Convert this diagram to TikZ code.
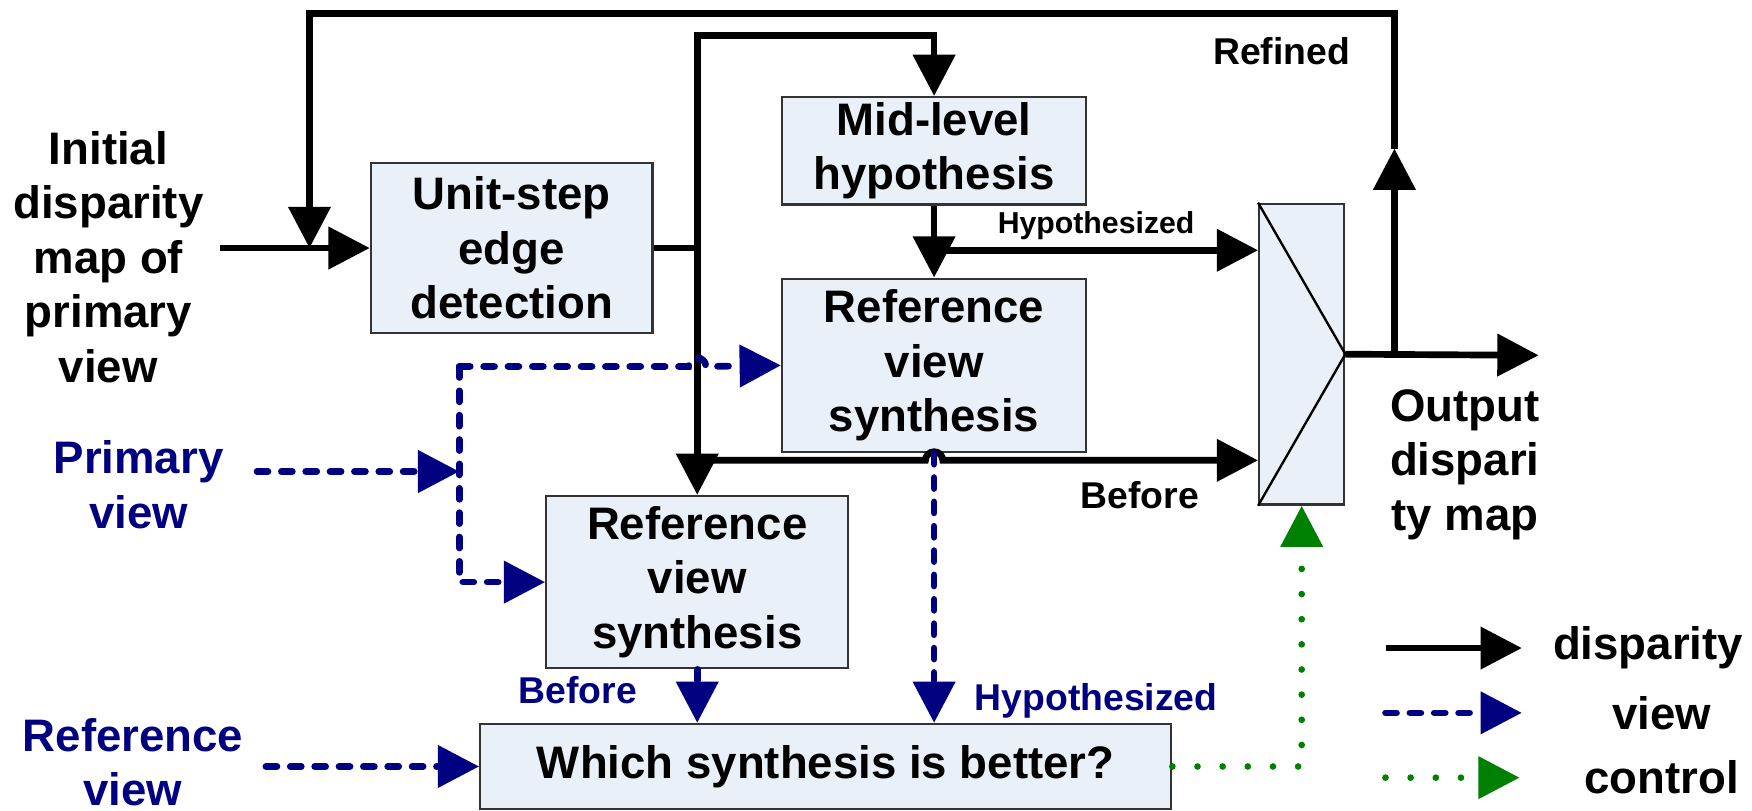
\documentclass[tikz,border=0pt]{standalone}
\usepackage{fontspec}
\setmainfont{Liberation Sans}
\usepackage{xcolor}
\usetikzlibrary{arrows.meta}

\definecolor{boxfill}{HTML}{EAF0F8}
\definecolor{viewblue}{HTML}{000080}
\definecolor{ctrlgreen}{HTML}{008000}

\begin{document}
\begin{tikzpicture}[x=0.01cm, y=-0.01cm, font=\fontsize{11.6}{13.9}\selectfont\bfseries]

	\useasboundingbox (0,0) rectangle (1568,725);

	\tikzstyle{every node}=[align=center, inner sep=0pt]
	\tikzstyle{blk}=[draw=black!80, line width=0.6pt, fill=boxfill]
	\tikzstyle{dline}=[line width=1.7pt, -{Triangle[length=10.5pt,width=10.5pt]}]
	\tikzstyle{vline}=[dline, viewblue, line cap=round, dash pattern=on 2.8pt off 3.4pt]
	\tikzstyle{cline}=[line width=1.7pt, ctrlgreen, line cap=round, dash pattern=on 0pt off 6.4pt, -{Triangle[length=10.5pt,width=10.5pt]}]
	\tikzstyle{small}=[font=\fontsize{7.7}{9}\selectfont\bfseries]
	\tikzstyle{mid}=[font=\fontsize{9.5}{11}\selectfont\bfseries]

	% blocks
	\node[blk, minimum width=2.52cm, minimum height=1.52cm] (u) at (458,222) {Unit-step\\edge\\detection};
	\node[blk, minimum width=2.72cm, minimum height=0.96cm] (m) at (836,135) {Mid-level\\hypothesis};
	\node[blk, minimum width=2.72cm, minimum height=1.55cm] (r1) at (836,327) {Reference\\view\\synthesis};
	\node[blk, minimum width=2.70cm, minimum height=1.54cm] (r2) at (624,521) {Reference\\view\\synthesis};
	\node[blk, minimum width=6.18cm, minimum height=0.76cm] (w) at (739,686) {Which synthesis is better?};
	\node[blk, minimum width=0.76cm, minimum height=2.69cm] (mx) at (1165,317) {};
	\draw[line width=0.6pt] (mx.north west) -- (mx.east) -- (mx.south west);

	% outside texts
	\node (in) at (97,230) {Initial\\disparity\\map of\\primary\\view};
	\node[viewblue] (pv) at (124,434) {Primary\\view};
	\node[viewblue] (rv) at (119,682) {Reference\\view};
	\node (out) at (1311,416) {Output\\dispari\\ty map};

	\coordinate (s) at (197,222);
	\coordinate (k) at (277,222);
	\coordinate (j1) at (624,222);
	\coordinate (t2) at (836,32);
	\coordinate (j2) at (836,224);
	\coordinate (j3) at (624,412);
	\coordinate (j4) at (1248,318);
	\coordinate (up) at (1248,133);
	\coordinate (c1) at (1248,12);
	\coordinate (c2) at (277,12);
	\coordinate (o1) at (1377,318);

	% disparity
	\draw[dline] (s) -- (u.west);
	\draw[line width=1.7pt] (u.east) -- (j1);
	\draw[dline] (j1) -- (r2.north);
	\draw[dline] (j1) |- (t2) -- (m.north);
	\draw[dline] (m.south) -- (r1.north);
	\draw[dline] (j2) -- (mx.west |- j2);
	\draw[dline] (j3) -- ([xshift=-2.2pt]j3 -| r1.south) arc[start angle=180, end angle=0, radius=2.2pt] -- (mx.west |- j3);
	\draw[dline] (mx.east) -- (o1);
	\draw[dline] (j4) -- (up);
	\draw[dline] (up) -- (c1) -- (c2) -- (k);

	\node[small] (lh) at (981,202) {Hypothesized};
	\node[mid] (lb) at (1020,443) {Before};
	\node[mid] (lr) at (1147,46) {Refined};

	% views
	\coordinate (p0) at (230,422);
	\coordinate (q0) at (238,686);
	\coordinate (b1) at (411,328);
	\coordinate (b2) at (411,422);

	\draw[vline] (p0) -- (b2);
	\draw[vline] (b1) -- ([xshift=-2.2pt]b1 -| j1) arc[start angle=180, end angle=0, radius=2.2pt] -- (r1.west);
	\draw[vline] (b1) |- (r2.west);
	\draw[vline] (q0) -- (w.west);
	\draw[vline] (r2.south) -- (r2.south |- w.north);
	\draw[vline] (r1.south) -- (r1.south |- w.north);

	\node[mid, viewblue] (vb) at (517,618) {Before};
	\node[mid, viewblue] (vh) at (981,627) {Hypothesized};

	% control
	\draw[cline] (w.east) -| (mx.south);

	% legend
	\coordinate (l1) at (1240,580);
	\coordinate (l2) at (1362,580);
	\coordinate (l3) at (1240,638);
	\coordinate (l4) at (1362,638);
	\coordinate (l5) at (1240,696);
	\coordinate (l6) at (1360,696);
	\draw[dline] (l1) -- (l2);
	\draw[vline] (l3) -- (l4);
	\draw[cline] (l5) -- (l6);
	\node (ld) at (1475,580) {disparity};
	\node (lv) at (1487,638) {view};
	\node (lc) at (1487,696) {control};

\end{tikzpicture}
\end{document}
